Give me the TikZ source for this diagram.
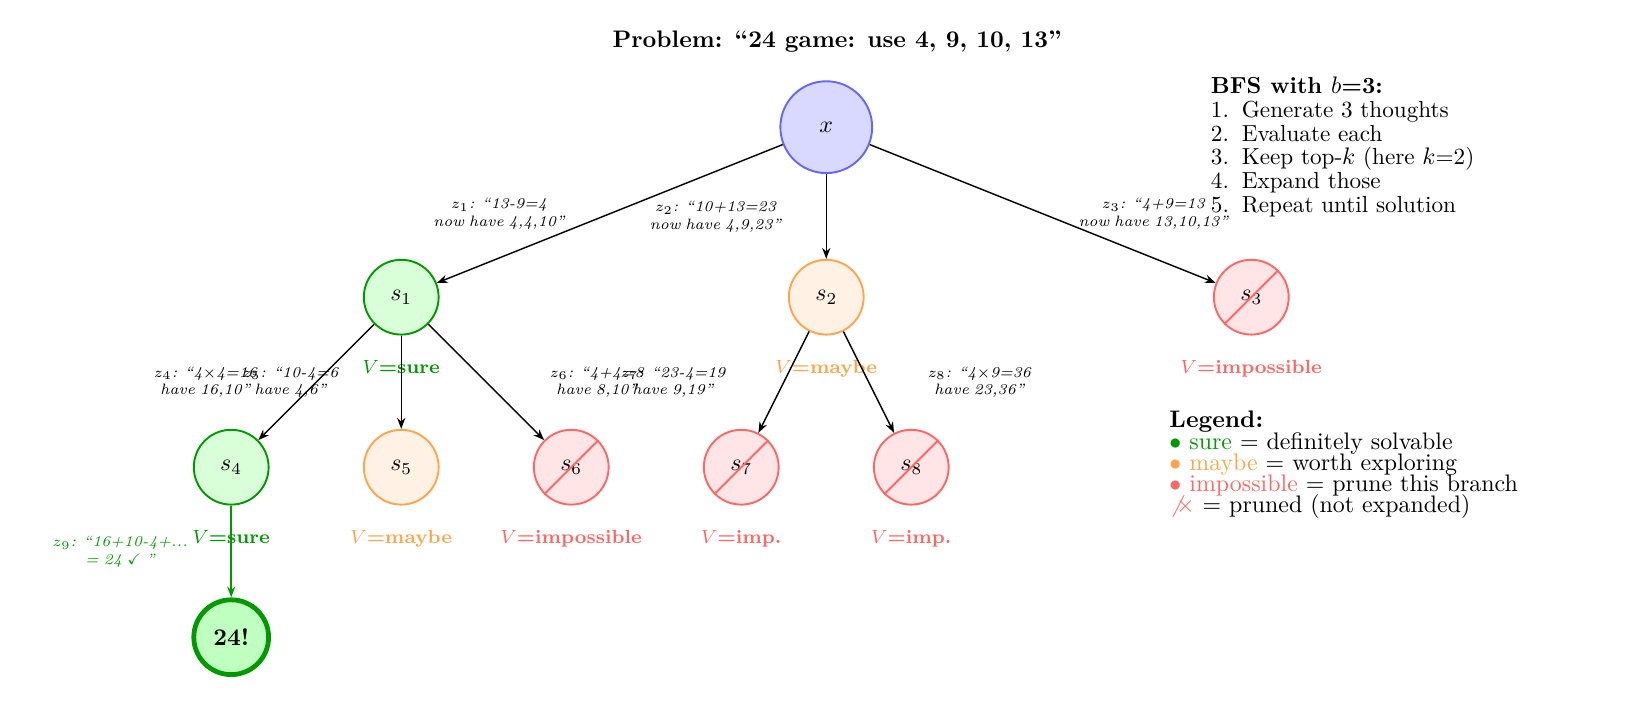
\documentclass[tikz,border=0pt]{standalone}
\usepackage{amsmath,amssymb}
\usepackage{xcolor}
\usepackage{tikz}
\usetikzlibrary{arrows.meta, positioning, calc}
\colorlet{surecol}{green!60!black}
\colorlet{maybecol}{orange!70}
\colorlet{impcol}{red!60}
\newcommand{\tightlines}{\lineskiplimit-20pt\relax}
\tikzset{
  statenode/.style={
    circle, draw, thick, minimum size=1.1cm, inner sep=0pt
  },
  rootnode/.style={
    statenode, draw=blue!60, fill=blue!15, minimum size=1.35cm
  },
  surenode/.style={statenode, draw=surecol, fill=green!15},
  maybenode/.style={statenode, draw=maybecol, fill=orange!10},
  impnode/.style={statenode, draw=impcol, fill=red!10},
  goalnode/.style={
    statenode, draw=surecol, fill=green!25, line width=2pt,
    font=\bfseries
  },
  treearrow/.style={-{Stealth[length=1.6mm]}, semithick},
  thoughtlabel/.style={
    font=\itshape\fontsize{6.3}{7.4}\selectfont, align=center,
    text width=3cm
  },
  valuelabel/.style={font=\footnotesize\bfseries},
  prunemark/.style={impcol, thick},
  infotext/.style={
    align=left, anchor=north west, inner sep=0pt
  },
}

\begin{document}
\begin{tikzpicture}
  \useasboundingbox (-12.15,-8.47) rectangle (11.76,1.87);

  % ── Title ──────────────────────────────────────────────────────
  \node (title) at (0.16, 1.26)
    {\textbf{Problem: ``24 game: use 4, 9, 10, 13''}};

  % ── Tree nodes ─────────────────────────────────────────────────
  \node[rootnode] (x)  at (0, 0)         {$x$};
  \node[surenode]  (s1) at (-6.25, -2.5) {$s_1$};
  \node[maybenode] (s2) at (0, -2.5)     {$s_2$};
  \node[impnode]   (s3) at (6.25, -2.5)  {$s_3$};

  \node[surenode]  (s4) at (-8.75, -5)   {$s_4$};
  \node[maybenode] (s5) at (-6.25, -5)   {$s_5$};
  \node[impnode]   (s6) at (-3.75, -5)   {$s_6$};
  \node[impnode]   (s7) at (-1.25, -5)   {$s_7$};
  \node[impnode]   (s8) at (1.25, -5)    {$s_8$};

  \node[goalnode]  (goal) at (-8.75, -7.5) {24!};

  % Pruned marks
  \foreach \n in {s3, s6, s7, s8}
    \draw[prunemark] (\n.south west) -- (\n.north east);

  % ── Value labels ───────────────────────────────────────────────
  \node[valuelabel, text=surecol,  below=2.4mm of s1] (v1) {$V$=sure};
  \node[valuelabel, text=maybecol, below=2.4mm of s2] (v2) {$V$=maybe};
  \node[valuelabel, text=impcol,   below=2.4mm of s3] (v3) {$V$=impossible};
  \node[valuelabel, text=surecol,  below=2.4mm of s4] (v4) {$V$=sure};
  \node[valuelabel, text=maybecol, below=2.4mm of s5] (v5) {$V$=maybe};
  \node[valuelabel, text=impcol,   below=2.4mm of s6] (v6) {$V$=impossible};
  \node[valuelabel, text=impcol,   below=2.4mm of s7] (v7) {$V$=imp.};
  \node[valuelabel, text=impcol,   below=2.4mm of s8] (v8) {$V$=imp.};

  % ── Thoughts (edges) ───────────────────────────────────────────
  \draw[treearrow] (x) -- node[thoughtlabel, left]
    {$z_1$: ``13-9=4\\now have 4,4,10''} (s1);
  \draw[treearrow] (x) -- node[thoughtlabel, left]
    {$z_2$: ``10+13=23\\now have 4,9,23''} (s2);
  \draw[treearrow] (x) -- node[thoughtlabel, right]
    {$z_3$: ``4+9=13\\now have 13,10,13''} (s3);

  \draw[treearrow] (s1) -- node[thoughtlabel, left]
    {$z_4$: ``4$\times$4=16\\have 16,10''} (s4);
  \draw[treearrow] (s1) -- node[thoughtlabel, left]
    {$z_5$: ``10-4=6\\have 4,6''} (s5);
  \draw[treearrow] (s1) -- node[thoughtlabel, right]
    {$z_6$: ``4+4=8\\have 8,10''} (s6);

  \draw[treearrow] (s2) -- node[thoughtlabel, left]
    {$z_7$: ``23-4=19\\have 9,19''} (s7);
  \draw[treearrow] (s2) -- node[thoughtlabel, right]
    {$z_8$: ``4$\times$9=36\\have 23,36''} (s8);

  \draw[treearrow, surecol, thick] (s4) -- node[thoughtlabel, left]
    {$z_9$: ``16+10-4+...\\= 24 $\checkmark$ ''} (goal);

  % ── Side notes ─────────────────────────────────────────────────
  \node[infotext, font=\fontsize{9.7}{9.9}\selectfont\tightlines]
    (bfs) at (5.65, 0.74) {%
    \textbf{BFS with $b$=3:}\\
    1.\hspace{0.55em}Generate 3 thoughts\\
    2.\hspace{0.55em}Evaluate each\\
    3.\hspace{0.55em}Keep top-$k$ (here $k$=2)\\
    4.\hspace{0.55em}Expand those\\
    5.\hspace{0.55em}Repeat until solution};

  \node[infotext, font=\fontsize{10}{8.9}\selectfont\tightlines]
    (legend) at (5.04, -4.17) {%
    \textbf{Legend:}\\
    \textcolor{surecol}{$\bullet$ sure} $=$ definitely solvable\\
    \textcolor{maybecol}{$\bullet$ maybe} $=$ worth exploring\\
    \textcolor{impcol}{$\bullet$ impossible} $=$ prune this branch\\
    \textcolor{impcol}{\smash{$\not\times$}} $=$ pruned (not expanded)};
\end{tikzpicture}
\end{document}
